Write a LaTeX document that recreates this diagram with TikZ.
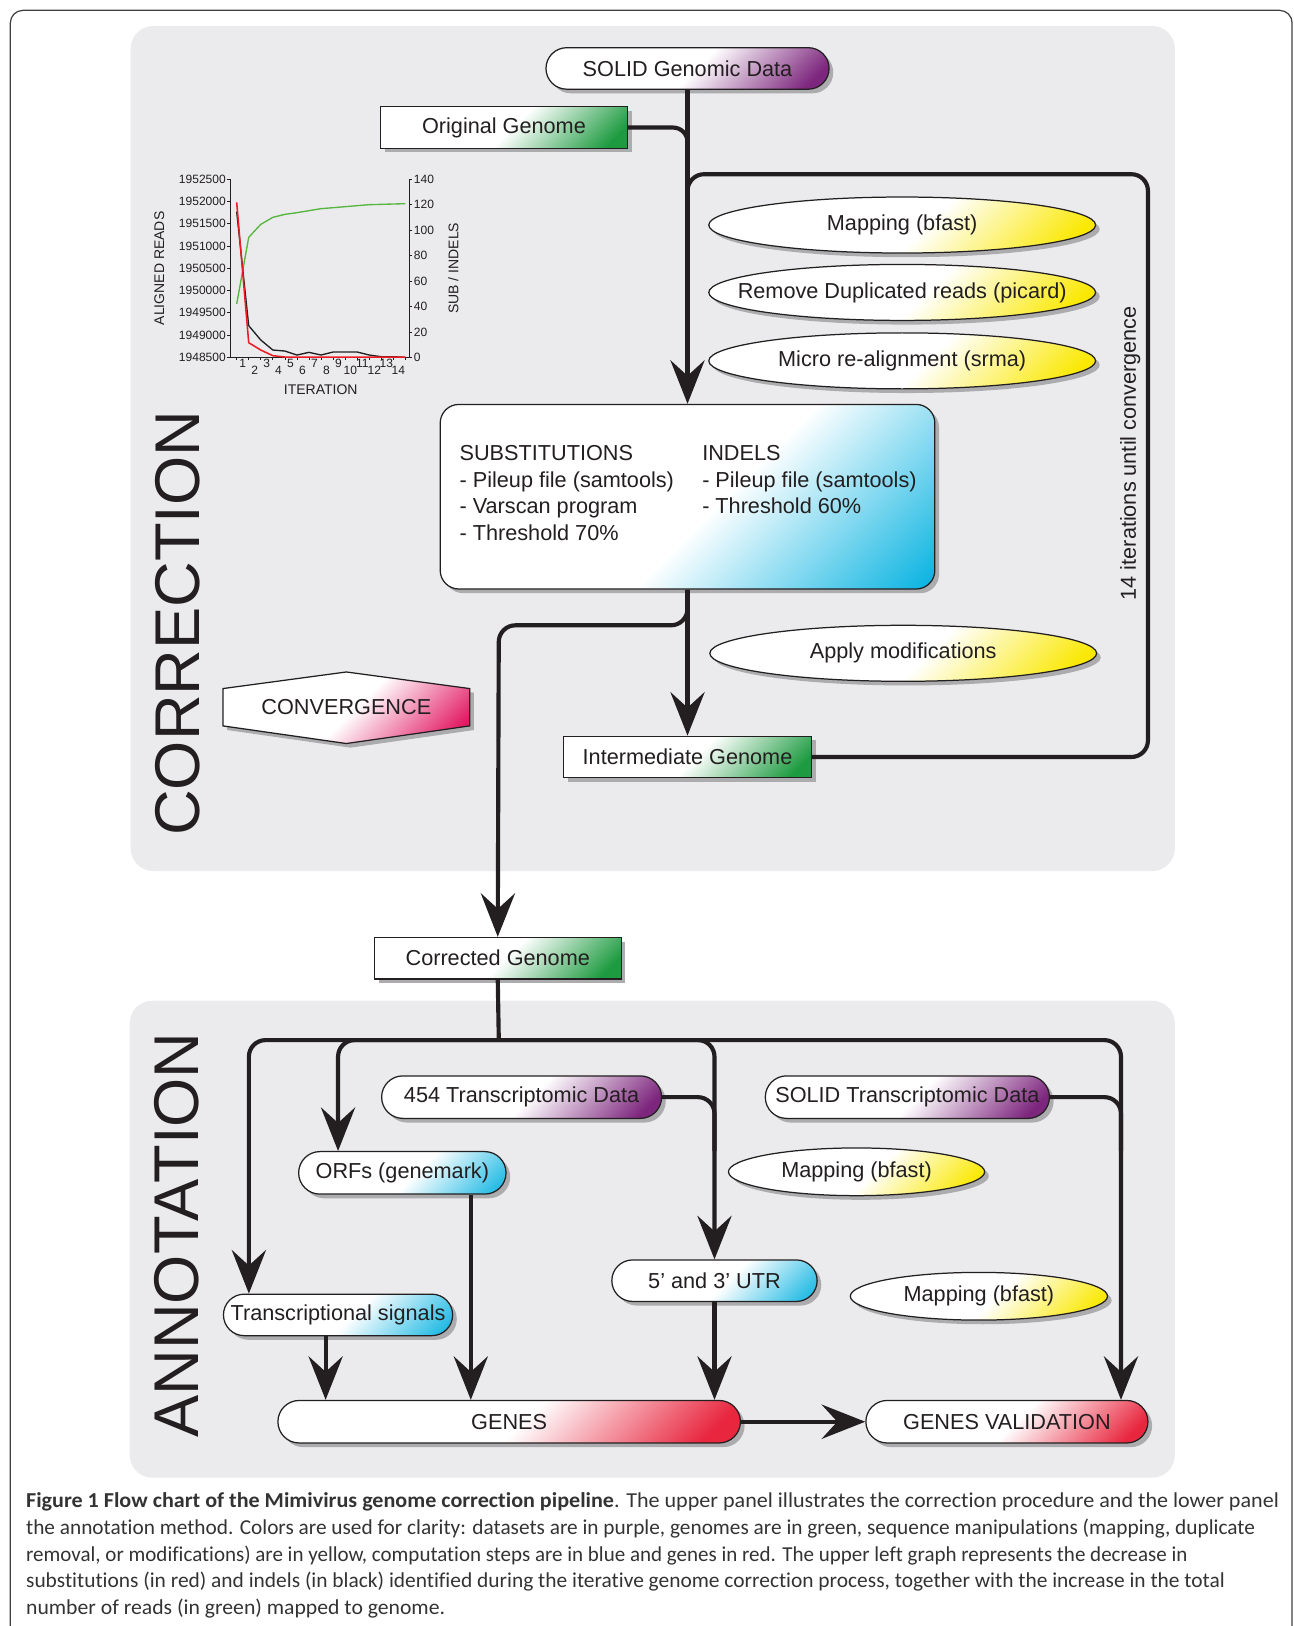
\documentclass[tikz,border=0pt]{standalone}
\usepackage{fontspec}
\setmainfont{Liberation Sans}
\newfontfamily\capfont[Ligatures=NoCommon]{Carlito}
\usepackage{graphicx}
\usetikzlibrary{shapes.misc,shapes.geometric,shadows,arrows.meta}

\definecolor{ink}{RGB}{35,31,32}
\definecolor{panelgray}{RGB}{235,235,237}
\definecolor{dpurple}{RGB}{125,38,125}
\definecolor{dgreen}{RGB}{30,155,65}
\definecolor{dyellow}{RGB}{250,232,0}
\definecolor{dcyan}{RGB}{0,176,224}
\definecolor{dred}{RGB}{232,38,62}
\definecolor{dpink}{RGB}{226,24,98}
\definecolor{shadowgray}{RGB}{172,172,175}
\definecolor{chartred}{RGB}{236,28,36}
\definecolor{chartgreen}{RGB}{86,182,64}

\pgfdeclarehorizontalshading{gpurple}{100bp}{color(0bp)=(white);color(52bp)=(white);color(80bp)=(dpurple);color(100bp)=(dpurple)}
\pgfdeclarehorizontalshading{ggreen}{100bp}{color(0bp)=(white);color(52bp)=(white);color(80bp)=(dgreen);color(100bp)=(dgreen)}
\pgfdeclarehorizontalshading{gyellow}{100bp}{color(0bp)=(white);color(54bp)=(white);color(80bp)=(dyellow);color(100bp)=(dyellow)}
\pgfdeclarehorizontalshading{gcyan}{100bp}{color(0bp)=(white);color(54bp)=(white);color(86bp)=(dcyan);color(100bp)=(dcyan)}
\pgfdeclarehorizontalshading{gred}{100bp}{color(0bp)=(white);color(52bp)=(white);color(80bp)=(dred);color(100bp)=(dred)}
\pgfdeclarehorizontalshading{gpink}{100bp}{color(0bp)=(white);color(52bp)=(white);color(80bp)=(dpink);color(100bp)=(dpink)}

\tikzset{
  txt/.style={font=\fontsize{20.9}{25.6}\selectfont, text=ink},
  shad/.style={drop shadow={shadow xshift=4pt,shadow yshift=-4pt,fill=shadowgray,opacity=1}},
  boxbase/.style={txt, draw=ink, line width=1.2pt, inner sep=0pt, shad},
  pill/.style={boxbase, rounded rectangle, minimum height=40pt},
  gbox/.style={boxbase, rectangle, minimum height=40pt},
  ell/.style={boxbase, ellipse, minimum height=54pt, minimum width=373pt},
  purp/.style={shading=gpurple, shading angle=-45},
  grn/.style={shading=ggreen, shading angle=-45},
  yel/.style={shading=gyellow, shading angle=-45},
  cyn/.style={shading=gcyan, shading angle=-45},
  rd/.style={shading=gred, shading angle=-45},
  pnk/.style={shading=gpink, shading angle=-45},
  conn/.style={line width=4pt, draw=ink},
  arr/.style={conn, -{Stealth[length=42pt,width=33pt,inset=15pt]}},
  bigtitle/.style={font=\fontsize{61}{61}\selectfont, text=ink, rotate=90, inner sep=0pt},
  axisl/.style={line width=0.7pt, draw=ink},
  tickl/.style={font=\fontsize{11.6}{12}\selectfont, text=ink, inner sep=0pt},
  axtitle/.style={font=\fontsize{13.5}{14}\selectfont, text=ink, inner sep=0pt},
  capline/.style={anchor=base west, inner sep=0pt, font=\capfont\fontsize{20.5}{22}\selectfont, text=black!80},
}

\begin{document}
\begin{tikzpicture}[x=1pt,y=-1pt]
\useasboundingbox (0,0) rectangle (1247,1568);
% outer frame and panels
\draw[black!75, line width=1.2pt, rounded corners=12pt] (10,10) rectangle (1246,1600);
\fill[panelgray, rounded corners=22pt] (126,25) rectangle (1133,840);
\fill[panelgray, rounded corners=22pt] (125,965) rectangle (1133,1425);

% ---------- chart ----------
\begin{scope}[shift={(125.37pt,-154.3pt)}, x=0.32147pt, y=-0.32147pt]
  \draw[axisl] (300,57) -- (300,592) -- (838,592) -- (838,57);
  \foreach \v [count=\k from 0] in {1952500,1952000,1951500,1951000,1950500,1950000,1949500,1949000,1948500}{
    \draw[axisl] (291,{57+66.875*\k}) -- (300,{57+66.875*\k});
    \node[tickl,anchor=east] (yl\k) at (288,{57+66.875*\k}) {\v};
  }
  \foreach \v [count=\k from 0] in {140,120,100,80,60,40,20,0}{
    \draw[axisl] (838,{57+76.43*\k}) -- (847,{57+76.43*\k});
    \node[tickl,anchor=west] (yr\k) at (851,{57+76.43*\k}) {\v};
  }
  \foreach \k in {0,...,14}{
    \draw[axisl] ({320+36.14*\k},592) -- ({320+36.14*\k},600);
  }
  \foreach \k in {1,...,14}{
    \pgfmathsetmacro\yy{ifthenelse(mod(\k,2)==1,610,632)}
    \node[tickl] (xl\k) at ({338+35.9*(\k-1)},\yy) {\k};
  }
  \draw[line width=1.3pt, chartgreen, line join=round] (320,432) -- (356.1,232) -- (392.3,193) -- (428.4,172) -- (464.6,163) -- (500.7,158) -- (536.8,152) -- (573,146) -- (609.1,143) -- (645.3,140) -- (681.4,137) -- (717.5,134) -- (753.7,133) -- (789.8,132) -- (826,131);
  \draw[line width=1.3pt, ink, line join=round] (320,155) -- (356.1,497) -- (392.3,540) -- (428.4,570) -- (464.6,573) -- (500.7,585) -- (536.8,577) -- (573,585) -- (609.1,576) -- (645.3,576) -- (681.4,576) -- (717.5,585) -- (753.7,590) -- (789.8,590) -- (826,592);
  \draw[line width=1.5pt, chartred, line join=round] (320,127) -- (356.1,548) -- (392.3,570) -- (428.4,587) -- (464.6,591) -- (826,591);
  \node[axtitle, rotate=90] (ylab) at (88,325) {ALIGNED READS};
  \node[axtitle, rotate=90] (yrlab) at (970,325) {SUB / INDELS};
  \node[axtitle] (xlab) at (572,690) {ITERATION};
\end{scope}

% ---------- correction panel ----------
\node[bigtitle] (corrtitle) at (171,601) {CORRECTION};
\node[pill, purp, minimum width=273pt] (sgd) at (663,66) {SOLID Genomic Data};
\node[gbox, grn, minimum width=238pt] (og) at (486,123) {Original Genome};
\node[ell, yel] (map1) at (870,217) {\makebox[0pt]{Mapping (bfast)}};
\node[ell, yel] (rmdup) at (870,282) {\makebox[0pt]{Remove Duplicated reads (picard)}};
\node[ell, yel] (micro) at (870,348) {\makebox[0pt]{Micro re-alignment (srma)}};
\node[boxbase, cyn, rounded corners=18pt, minimum width=477pt, minimum height=178pt] (big) at (663,479) {};
\node[txt, anchor=north west, align=left, inner sep=0pt] (subs) at (443,429.5) {SUBSTITUTIONS\\- Pileup file (samtools)\\- Varscan program\\- Threshold 70\%};
\node[txt, anchor=north west, align=left, inner sep=0pt] (indels) at (677,429.5) {INDELS\\- Pileup file (samtools)\\- Threshold 60\%};
\node[txt, rotate=90, inner sep=0pt] (iter14) at (1090,437) {14 iterations until convergence};
\node[ell, yel] (apply) at (871,630) {\makebox[0pt]{Apply modifications}};
\node[gbox, grn, minimum width=239pt] (ig) at (663,730) {Intermediate Genome};
\path[draw=ink, line width=1.2pt, pnk, shad] (215,664) -- (334,648) -- (453,664) -- (453,700) -- (334,717) -- (215,700) -- cycle;
\node[txt, inner sep=0pt] (conv) at (334,682) {CONVERGENCE};
\node[gbox, grn, minimum width=238pt] (cg) at (480,924) {Corrected Genome};

\coordinate (merge) at (663,200);
\coordinate (looptr) at (1107,168);
\coordinate (branch) at (481,603);

\draw[arr] (sgd.south) -- (big.north);
\draw[conn, rounded corners=14pt] (og.east) -| (merge);
\draw[conn, rounded corners=16pt] (ig.east) -| (looptr) -| (merge);
\draw[arr] (big.south) -- (ig.north);
\draw[arr, rounded corners=16pt] (big.south) |- (branch) -- (cg.north);

% ---------- annotation panel ----------
\node[bigtitle] (annottitle) at (170,1191) {ANNOTATION};
\node[pill, purp, minimum width=270pt, minimum height=41pt] (t454) at (503,1058) {454 Transcriptomic Data};
\node[pill, purp, minimum width=274pt, minimum height=41pt] (tsolid) at (875,1058) {SOLID Transcriptomic Data};
\node[pill, cyn, minimum width=200pt, minimum height=41pt] (orfs) at (388,1131) {ORFs (genemark)};
\node[ell, yel, minimum width=247pt, minimum height=46pt] (mapA) at (826,1130) {\makebox[0pt]{Mapping (bfast)}};
\node[pill, cyn, minimum width=198pt] (utr) at (689,1235) {5’ and 3’ UTR};
\node[ell, yel, minimum width=248pt, minimum height=46pt] (mapB) at (944,1250) {\makebox[0pt]{Mapping (bfast)}};
\node[pill, cyn, minimum width=221pt] (ts) at (326,1268) {Transcriptional signals};
\node[pill, rd, minimum width=446pt, minimum height=41pt] (genes) at (491,1371) {GENES};
\node[pill, rd, minimum width=272pt, minimum height=41pt] (gv) at (971,1371) {GENES VALIDATION};

\coordinate (bus) at (481,1003);
\coordinate (xts) at (240,0);
\coordinate (xorf) at (326,0);
\coordinate (xgv) at (1081,0);
\coordinate (xo2) at (454,0);
\coordinate (xt2) at (314,0);
\coordinate (mergeutr) at (689,1110);
\coordinate (mergegv) at (1081,1110);

\draw[conn] (cg.south) -- (bus);
\draw[arr, rounded corners=16pt] (bus) -| (ts.north -| xts);
\draw[arr, rounded corners=16pt] (bus) -| (orfs.north -| xorf);
\draw[arr, rounded corners=16pt] (bus) -| (utr.north);
\draw[arr, rounded corners=16pt] (bus) -| (gv.north -| xgv);
\draw[conn, rounded corners=16pt] (t454.east) -| (mergeutr);
\draw[conn, rounded corners=16pt] (tsolid.east) -| (mergegv);
\draw[arr] (orfs.south -| xo2) -- (genes.north -| xo2);
\draw[arr] (ts.south -| xt2) -- (genes.north -| xt2);
\draw[arr] (utr.south) -- (genes.north -| utr.south);
\draw[arr] (genes.east) -- (gv.west);

% ---------- caption ----------
\node[capline] (cap1) at (25,1454) {\resizebox{1208pt}{\height}{\textbf{Figure 1 Flow chart of the Mimivirus genome correction pipeline}. The upper panel illustrates the correction procedure and the lower panel}};
\node[capline] (cap2) at (25,1480) {\resizebox{1185pt}{\height}{the annotation method. Colors are used for clarity: datasets are in purple, genomes are in green, sequence manipulations (mapping, duplicate}};
\node[capline] (cap3) at (25,1505.5) {\resizebox{1120pt}{\height}{removal, or modifications) are in yellow, computation steps are in blue and genes in red. The upper left graph represents the decrease in}};
\node[capline] (cap4) at (25,1531) {\resizebox{1156pt}{\height}{substitutions (in red) and indels (in black) identified during the iterative genome correction process, together with the increase in the total}};
\node[capline] (cap5) at (25,1557) {\resizebox{404pt}{\height}{number of reads (in green) mapped to genome.}};
\end{tikzpicture}
\end{document}
